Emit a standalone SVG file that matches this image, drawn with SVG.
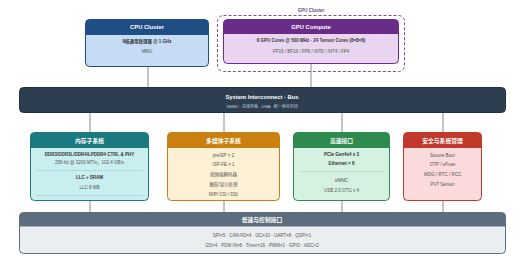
<svg xmlns="http://www.w3.org/2000/svg" width="520" height="263" viewBox="0 0 520 263">
<style>
text{font-family:"Liberation Sans","Noto Sans CJK SC",sans-serif;text-anchor:middle}
.t{font-size:5.8px;font-weight:bold;fill:#fff}
.b{font-size:4.5px;font-weight:bold;fill:#333}
.n{font-size:4.5px;fill:#555}
.conn line{stroke:#8a8a8a;stroke-width:1}
.sep{stroke-width:0.6}
</style>
<rect width="520" height="263" fill="#fff"/>
<g id="connectors" class="conn">
<line x1="148" y1="67" x2="148" y2="87"/>
<line x1="311" y1="64" x2="311" y2="87"/>
<line x1="90" y1="113" x2="90" y2="132"/>
<line x1="224" y1="113" x2="224" y2="132"/>
<line x1="342" y1="113" x2="342" y2="132"/>
<line x1="443" y1="113" x2="443" y2="132"/>
<line x1="90" y1="201" x2="90" y2="212"/>
<line x1="224" y1="201" x2="224" y2="212"/>
<line x1="342" y1="201" x2="342" y2="212"/>
<line x1="443" y1="201" x2="443" y2="212"/>
</g>
<g id="gpu-cluster">
<rect x="217.5" y="15.5" width="187" height="56" rx="6" fill="none" stroke="#7d4f96" stroke-width="1" stroke-dasharray="3,2"/>
<text x="311" y="12" style="font-size:4.5px;font-weight:bold;fill:#6a3d8a">GPU Cluster</text>
</g>
<g id="cpu">
<rect x="85.5" y="19.5" width="123" height="47" rx="4" fill="#c6dcf5"/>
<path d="M85.5,35 V23.5 Q85.5,19.5 89.5,19.5 H204.5 Q208.5,19.5 208.5,23.5 V35 Z" fill="#1f4e85"/>
<rect x="85.5" y="19.5" width="123" height="47" rx="4" fill="none" stroke="#1f4e85" stroke-width="1"/>
<text class="t" x="147" y="29">CPU Cluster</text>
<text class="b" x="147" y="43">8核通用处理器 @ 1 GHz</text>
<text class="n" x="147" y="53">MMU</text>
</g>
<g id="gpu">
<rect x="223.5" y="19.5" width="175" height="44" rx="4" fill="#ead5f0"/>
<path d="M223.5,34 V23.5 Q223.5,19.5 227.5,19.5 H394.5 Q398.5,19.5 398.5,23.5 V34 Z" fill="#6a2c8a"/>
<rect x="223.5" y="19.5" width="175" height="44" rx="4" fill="none" stroke="#6a2c8a" stroke-width="1"/>
<text class="t" x="311" y="29">GPU Compute</text>
<text class="b" x="311" y="42">6 GPU Cores @ 500 MHz · 24 Tensor Cores (8×8×8)</text>
<text class="n" x="311" y="53">FP16 / BF16 / FP8 / INT8 / INT4 / FP4</text>
</g>
<g id="bus">
<rect x="19.5" y="87.5" width="486" height="25" rx="4" fill="#2c3e50" stroke="#22313f" stroke-width="1"/>
<text class="t" x="262" y="99">System Interconnect · Bus</text>
<text x="262" y="107.5" style="font-size:4px;fill:#c8d0d8">SMMU · 总线仲裁 · DMA · 统一地址空间</text>
</g>
<g id="memory">
<rect x="30.5" y="132.5" width="118" height="68" rx="4" fill="#c8eef0"/>
<path d="M30.5,148 V136.5 Q30.5,132.5 34.5,132.5 H144.5 Q148.5,132.5 148.5,136.5 V148 Z" fill="#1a7a80"/>
<rect x="30.5" y="132.5" width="118" height="68" rx="4" fill="none" stroke="#1a7a80" stroke-width="1"/>
<text class="t" x="89.5" y="142.5">内存子系统</text>
<text class="b" x="89.5" y="156">DDR3/DDR3L/DDR4/LPDDR4 CTRL &amp; PHY</text>
<text class="n" x="89.5" y="163.5">256-bit @ 3200 MT/s，102.4 GB/s</text>
<line class="sep" x1="36" y1="170.5" x2="143" y2="170.5" stroke="#9fcfd2"/>
<text class="b" x="89.5" y="179">LLC + SRAM</text>
<text class="n" x="89.5" y="188.5">LLC 8 MB</text>
<line class="sep" x1="36" y1="195.5" x2="143" y2="195.5" stroke="#9fcfd2"/>
</g>
<g id="multimedia">
<rect x="167.5" y="132.5" width="112" height="68" rx="4" fill="#fdf0d5"/>
<path d="M167.5,148 V136.5 Q167.5,132.5 171.5,132.5 H275.5 Q279.5,132.5 279.5,136.5 V148 Z" fill="#c98010"/>
<rect x="167.5" y="132.5" width="112" height="68" rx="4" fill="none" stroke="#c98010" stroke-width="1"/>
<text class="t" x="223.5" y="142.5">多媒体子系统</text>
<text class="n" x="223.5" y="156.5">preISP × 2</text>
<text class="n" x="223.5" y="166">ISP-FE × 1</text>
<text class="n" x="223.5" y="175.5">视频编解码器</text>
<text class="n" x="223.5" y="185.5">图形/显示处理</text>
<text class="n" x="223.5" y="195.5">MIPI CSI / DSI</text>
</g>
<g id="highspeed">
<rect x="293.5" y="132.5" width="96" height="68" rx="4" fill="#d5f2e0"/>
<path d="M293.5,148 V136.5 Q293.5,132.5 297.5,132.5 H385.5 Q389.5,132.5 389.5,136.5 V148 Z" fill="#2e8b50"/>
<rect x="293.5" y="132.5" width="96" height="68" rx="4" fill="none" stroke="#2e8b50" stroke-width="1"/>
<text class="t" x="341.5" y="142.5">高速接口</text>
<text class="b" x="341.5" y="156">PCIe Gen4x4 x 3</text>
<text class="b" x="341.5" y="165">Ethernet × 6</text>
<line class="sep" x1="299" y1="171.5" x2="384" y2="171.5" stroke="#a6d8b8"/>
<text class="n" x="341.5" y="181.5">eMMC</text>
<text class="n" x="341.5" y="191.5">USB 2.0 OTG x 4</text>
</g>
<g id="security">
<rect x="403.5" y="132.5" width="78" height="68" rx="4" fill="#fadadb"/>
<path d="M403.5,148 V136.5 Q403.5,132.5 407.5,132.5 H477.5 Q481.5,132.5 481.5,136.5 V148 Z" fill="#c0392b"/>
<rect x="403.5" y="132.5" width="78" height="68" rx="4" fill="none" stroke="#c0392b" stroke-width="1"/>
<text class="t" x="442.5" y="142.5">安全与系统管理</text>
<text class="n" x="442.5" y="156.5">Secure Boot</text>
<text class="n" x="442.5" y="166">OTP / eFuse</text>
<text class="n" x="442.5" y="175.5">WDG / RTC / RCC</text>
<text class="n" x="442.5" y="185.5">PVT Sensor</text>
</g>
<g id="lowspeed">
<rect x="19.5" y="212.5" width="486" height="41" rx="4" fill="#eaeef0"/>
<path d="M19.5,226.5 V216.5 Q19.5,212.5 23.5,212.5 H501.5 Q505.5,212.5 505.5,216.5 V226.5 Z" fill="#5d6d7e"/>
<rect x="19.5" y="212.5" width="486" height="41" rx="4" fill="none" stroke="#5d6d7e" stroke-width="1"/>
<text class="t" x="262" y="221.5">低速与控制接口</text>
<text class="n" x="262" y="236.5">SPI×5 · CAN-FD×4 · I2C×10 · UART×8 · QSPI×1</text>
<text class="n" x="262" y="247">I2S×4 · PDM IN×8 · Timer×16 · PWM×1 · GPIO · ADC×2</text>
</g>
</svg>
